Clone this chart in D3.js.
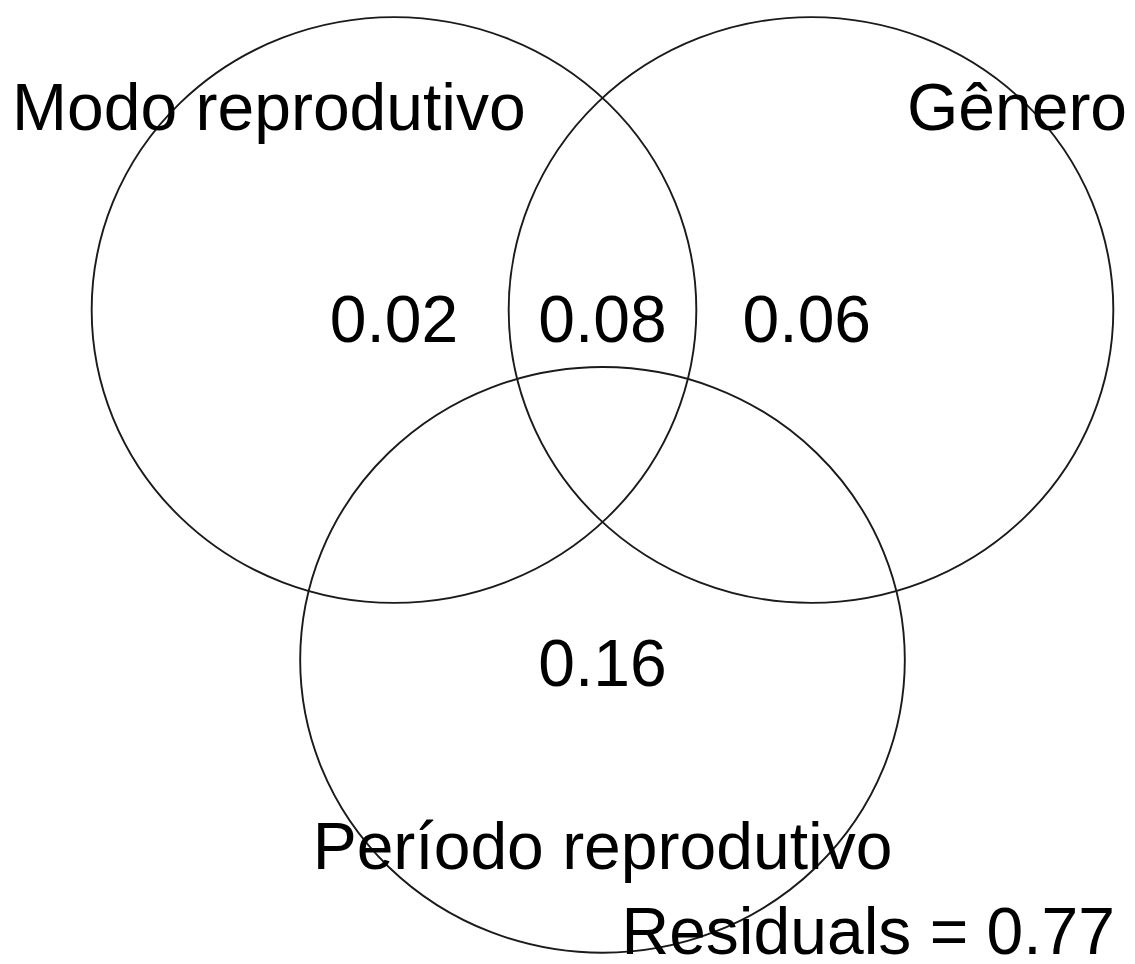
<!DOCTYPE html>
<html>
<head>
<meta charset="utf-8">
<script src="https://cdn.jsdelivr.net/npm/d3@7"></script>
<style>
  html, body { margin: 0; padding: 0; background: #fff; }
  svg { display: block; }
  text { font-family: "Liberation Sans", Arial, sans-serif; fill: #000; }
</style>
</head>
<body>
<svg id="chart" width="1135" height="964"></svg>
<script>
// ---- data ----
const setNames = ["Modo reprodutivo", "Gênero", "Período reprodutivo"];
const fractionLabels = ["0.02", "0.08", "0.06", "0.16"];
const residualValue = 0.77;

// ---- layout (vegan showvarparts geometry, data units) ----
const circleCenters = [[0, 0], [1, 0], [0.5, -Math.sqrt(3 / 4)]];
const radius = 0.725;
const fractionPos = [[0.0, -0.02], [0.5, -0.02], [0.99, -0.02], [0.5, -0.871]];
const setLabelPos = [[-0.30, 0.505], [1.494, 0.505], [0.5, -1.324]];
const residualPos = [1.729, -1.535];

const svg = d3.select("#chart");
const x = d3.scaleLinear().domain([0, 1]).range([394, 811]);
const y = d3.scaleLinear().domain([0, 1]).range([310, -94]);
const fs = 66;
const capShift = 0.358 * fs;

svg.append("rect").attr("width", 1135).attr("height", 964).attr("fill", "#fff");

svg.selectAll("ellipse.set")
  .data(circleCenters)
  .join("ellipse")
  .attr("class", "set")
  .attr("cx", d => x(d[0]))
  .attr("cy", d => y(d[1]))
  .attr("rx", x(radius) - x(0))
  .attr("ry", y(0) - y(radius))
  .attr("fill", "none")
  .attr("stroke", "#1a1a1a")
  .attr("stroke-width", 1.9);

svg.selectAll("text.frac")
  .data(fractionLabels)
  .join("text")
  .attr("class", "frac")
  .attr("x", (d, i) => x(fractionPos[i][0]))
  .attr("y", (d, i) => y(fractionPos[i][1]) + capShift)
  .attr("text-anchor", "middle")
  .attr("font-size", fs)
  .text(d => d);

svg.selectAll("text.setlab")
  .data(setNames)
  .join("text")
  .attr("class", "setlab")
  .attr("x", (d, i) => x(setLabelPos[i][0]))
  .attr("y", (d, i) => y(setLabelPos[i][1]) + capShift)
  .attr("text-anchor", "middle")
  .attr("font-size", fs)
  .text(d => d);

svg.append("text")
  .attr("x", x(residualPos[0]))
  .attr("y", y(residualPos[1]) + capShift)
  .attr("text-anchor", "end")
  .attr("font-size", fs)
  .text("Residuals = " + residualValue.toFixed(2));
</script>
</body>
</html>
